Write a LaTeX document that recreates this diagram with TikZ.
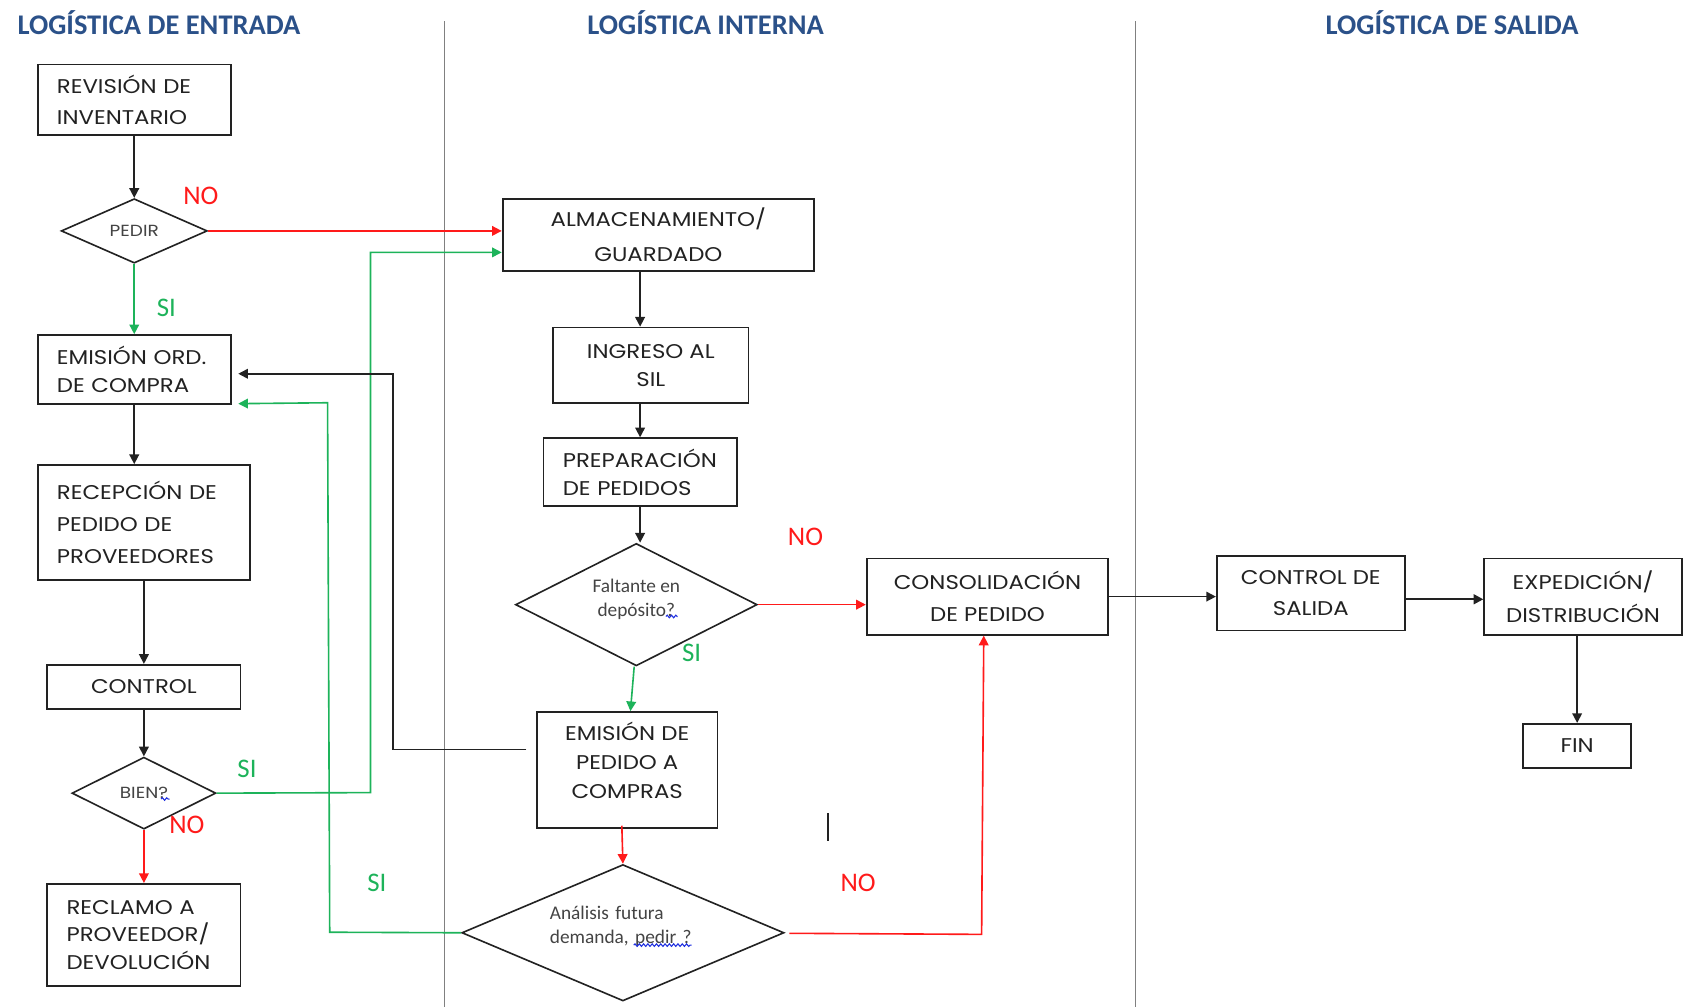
\documentclass[tikz,border=0pt]{standalone}
\usepackage{fontspec}
\setmainfont{Carlito}
\newfontfamily\boxfont[FakeStretch=1.15]{Poppins}
\newfontfamily\labfont{Carlito}
\usetikzlibrary{shapes.geometric,calc,arrows.meta,decorations.pathmorphing}

\definecolor{titleblue}{HTML}{2B5189}
\definecolor{flowred}{HTML}{FF1A1A}
\definecolor{flowgreen}{HTML}{1DB35A}
\definecolor{lanegray}{HTML}{808080}
\definecolor{inkgray}{HTML}{222222}
\definecolor{softink}{HTML}{444444}
\definecolor{spellblue}{HTML}{2030E0}

\tikzset{
  box/.style={draw=inkgray, line width=1.7pt, inner sep=0pt, align=center,
    text=inkgray, font=\boxfont\fontsize{18.5}{28}\selectfont},
  lbox/.style={box, align=left},
  decision/.style={diamond, draw=inkgray, line width=1.5pt, inner sep=0pt, aspect=2,
    align=center, text=softink},
  flow/.style={line width=1.5pt, -{Triangle[length=9pt,width=9pt]}},
  blk/.style={flow, draw=inkgray},
  redflow/.style={flow, draw=flowred},
  greenflow/.style={flow, draw=flowgreen},
  notag/.style={text=flowred, font=\labfont\fontsize{25}{25}\selectfont, inner sep=0pt},
  sitag/.style={text=flowgreen, font=\labfont\fontsize{25}{25}\selectfont, inner sep=0pt},
  lanetitle/.style={text=titleblue, font=\labfont\bfseries\fontsize{26.5}{26.5}\selectfont, inner sep=0pt},
  lane/.style={draw=lanegray, line width=1.3pt},
  spell/.style={draw=spellblue, line width=1pt,
    decorate, decoration={snake, segment length=4pt, amplitude=1.2pt}},
}

\begin{document}
\begin{tikzpicture}[x=1pt, y=-1pt]
\useasboundingbox (0,0) rectangle (1568,938);
\fill[white] (0,0) rectangle (1568,938);

% lane titles and separators
\node[lanetitle] (t1) at (148,21) {LOGÍSTICA DE ENTRADA};
\node[lanetitle] (t2) at (657,21) {LOGÍSTICA INTERNA};
\node[lanetitle] (t3) at (1352,21) {LOGÍSTICA DE SALIDA};
\draw[lane] (414,20) -- (414,938);
\draw[lane] (1057,20) -- (1057,938);

% inbound logistics
\node[lbox, minimum width=180pt, minimum height=66pt, text width=144pt] (rev) at (125,93)
  {\mbox{REVISIÓN DE}\\\mbox{INVENTARIO}};
\node[decision, minimum width=136pt, minimum height=60pt, font=\boxfont\fontsize{15}{17}\selectfont] (pedir) at (125,215) {PEDIR};
\node[lbox, minimum width=180pt, minimum height=64pt, text width=144pt,
  font=\boxfont\fontsize{18.5}{26}\selectfont] (eor) at (125,344)
  {\mbox{EMISIÓN ORD.}\\\mbox{DE COMPRA}};
\node[lbox, minimum width=198pt, minimum height=107pt, text width=162pt,
  font=\boxfont\fontsize{18.5}{30}\selectfont] (rec) at (134,486.5)
  {\mbox{RECEPCIÓN DE}\\\mbox{PEDIDO DE}\\\mbox{PROVEEDORES}};
\node[box, minimum width=180pt, minimum height=41pt] (ctl) at (134,639.5) {CONTROL};
\node[decision, minimum width=134pt, minimum height=67pt, font=\boxfont\fontsize{15}{17}\selectfont] (bien) at (134,738.5) {BIEN?};
\node[lbox, minimum width=180pt, minimum height=95pt, text width=144pt,
  font=\boxfont\fontsize{18.5}{25.5}\selectfont] (rcl) at (134,870.5)
  {\mbox{RECLAMO A}\\\mbox{PROVEEDOR/}\\\mbox{DEVOLUCIÓN}};

% internal logistics
\node[box, minimum width=290pt, minimum height=67pt, font=\boxfont\fontsize{18.5}{32}\selectfont] (alm) at (613,218.5)
  {ALMACENAMIENTO/\\GUARDADO};
\node[box, minimum width=182pt, minimum height=70pt, font=\boxfont\fontsize{18.5}{26}\selectfont] (ing) at (606,340)
  {INGRESO AL\\SIL};
\node[lbox, minimum width=180pt, minimum height=63pt, text width=144pt,
  font=\boxfont\fontsize{18.5}{26}\selectfont] (prep) at (596,439.5)
  {\mbox{PREPARACIÓN}\\\mbox{DE PEDIDOS}};
\node[decision, minimum width=225pt, minimum height=114pt, text depth=13pt,
  font=\labfont\fontsize{18}{22}\selectfont] (falt) at (592.5,563)
  {Faltante en\\depósito?};
\node[box, minimum width=168pt, minimum height=108pt, text depth=19pt,
  font=\boxfont\fontsize{18.5}{27}\selectfont] (epc) at (584,717)
  {EMISIÓN DE\\PEDIDO A\\COMPRAS};
\node[decision, minimum width=300pt, minimum height=127pt, text width=136pt, align=left,
  text depth=37pt, font=\labfont\fontsize{18}{22}\selectfont] (ana) at (580,868.5)
  {\mbox{Análisis futura}\\\mbox{demanda, pedir ?}};
\node[box, minimum width=225pt, minimum height=71pt, font=\boxfont\fontsize{18.5}{30}\selectfont] (cons) at (919.5,555.5)
  {CONSOLIDACIÓN\\DE PEDIDO};

% outbound logistics
\node[box, minimum width=175pt, minimum height=69pt, font=\boxfont\fontsize{18.5}{29}\selectfont] (cds) at (1220.5,552.5)
  {CONTROL DE\\SALIDA};
\node[box, minimum width=184pt, minimum height=71pt, font=\boxfont\fontsize{18.5}{30}\selectfont] (exp) at (1474,555.5)
  {EXPEDICIÓN/\\DISTRIBUCIÓN};
\node[box, minimum width=101pt, minimum height=41pt] (fin) at (1468.5,694.5) {FIN};

% bend points
\coordinate (bienturn) at (345,738);
\coordinate (epcout) at (490,698);
\coordinate (blackturn) at (366,698);
\coordinate (anaturn) at (307,868);
\coordinate (greenturn) at (305,375);
\coordinate (anaout) at (735,869);
\coordinate (redturn) at (914,870);
\coordinate (cdsout) at (1308,558);

% connectors
\draw[blk] (rev.south) -- (pedir.north);
\draw[redflow] (pedir.east) -- (pedir.east -| alm.west);
\draw[greenflow] (pedir.south) -- (eor.north);
\draw[blk] (eor.south) -- (eor.south |- rec.north);
\draw[blk] (rec.south) -- (ctl.north);
\draw[blk] (ctl.south) -- (bien.north);
\draw[redflow] (bien.south) -- (rcl.north);
\draw[greenflow] (bien.east) -- (bienturn) |- ($(alm.west)+(0,16.5)$);
\draw[blk] (epcout) -- (blackturn) |- ($(eor.east)+(6,4)$);
\draw[greenflow] (ana.west) -- (anaturn) -- (greenturn) -- ($(eor.south east)+(6,-1)$);
\draw[blk] (alm.south -| prep.south) -- (ing.north -| prep.south);
\draw[blk] (ing.south -| prep.south) -- (prep.north);
\draw[blk] (prep.south) -- (prep.south |- falt.north);
\draw[redflow] (falt.east) -- (falt.east -| cons.west);
\draw[greenflow] ($(falt.south)+(-2,0)$) -- ($(epc.north)+(3,0)$);
\draw[redflow] ($(epc.south)+(-5,-3)$) -- (ana.north);
\draw[redflow] (anaout) -- (redturn) -- ($(cons.south)+(-3.5,0)$);
\draw[blk] (cons.east) -- (cons.east -| cds.west);
\draw[blk, line width=2.2pt] (cdsout) -- (cdsout -| exp.west);
\draw[blk] (exp.south -| fin.north) -- (fin.north);

% cursor mark
\draw[draw=inkgray, line width=1.6pt] (771,757) -- (771,783);

% spell-check underlines
\draw[spell] (150,744) -- (158,744);
\draw[spell] (620,574) -- (631,574);
\draw[spell] (590,880) -- (644,880);

% branch labels
\node[notag] (no1) at (187,182) {NO};
\node[sitag] (si1) at (155,287) {SI};
\node[sitag] (si2) at (230,716) {SI};
\node[notag] (no2) at (174,768) {NO};
\node[notag] (no3) at (750,500) {NO};
\node[sitag] (si3) at (644,608) {SI};
\node[sitag] (si4) at (351,822) {SI};
\node[notag] (no4) at (799,822) {NO};
\end{tikzpicture}
\end{document}
